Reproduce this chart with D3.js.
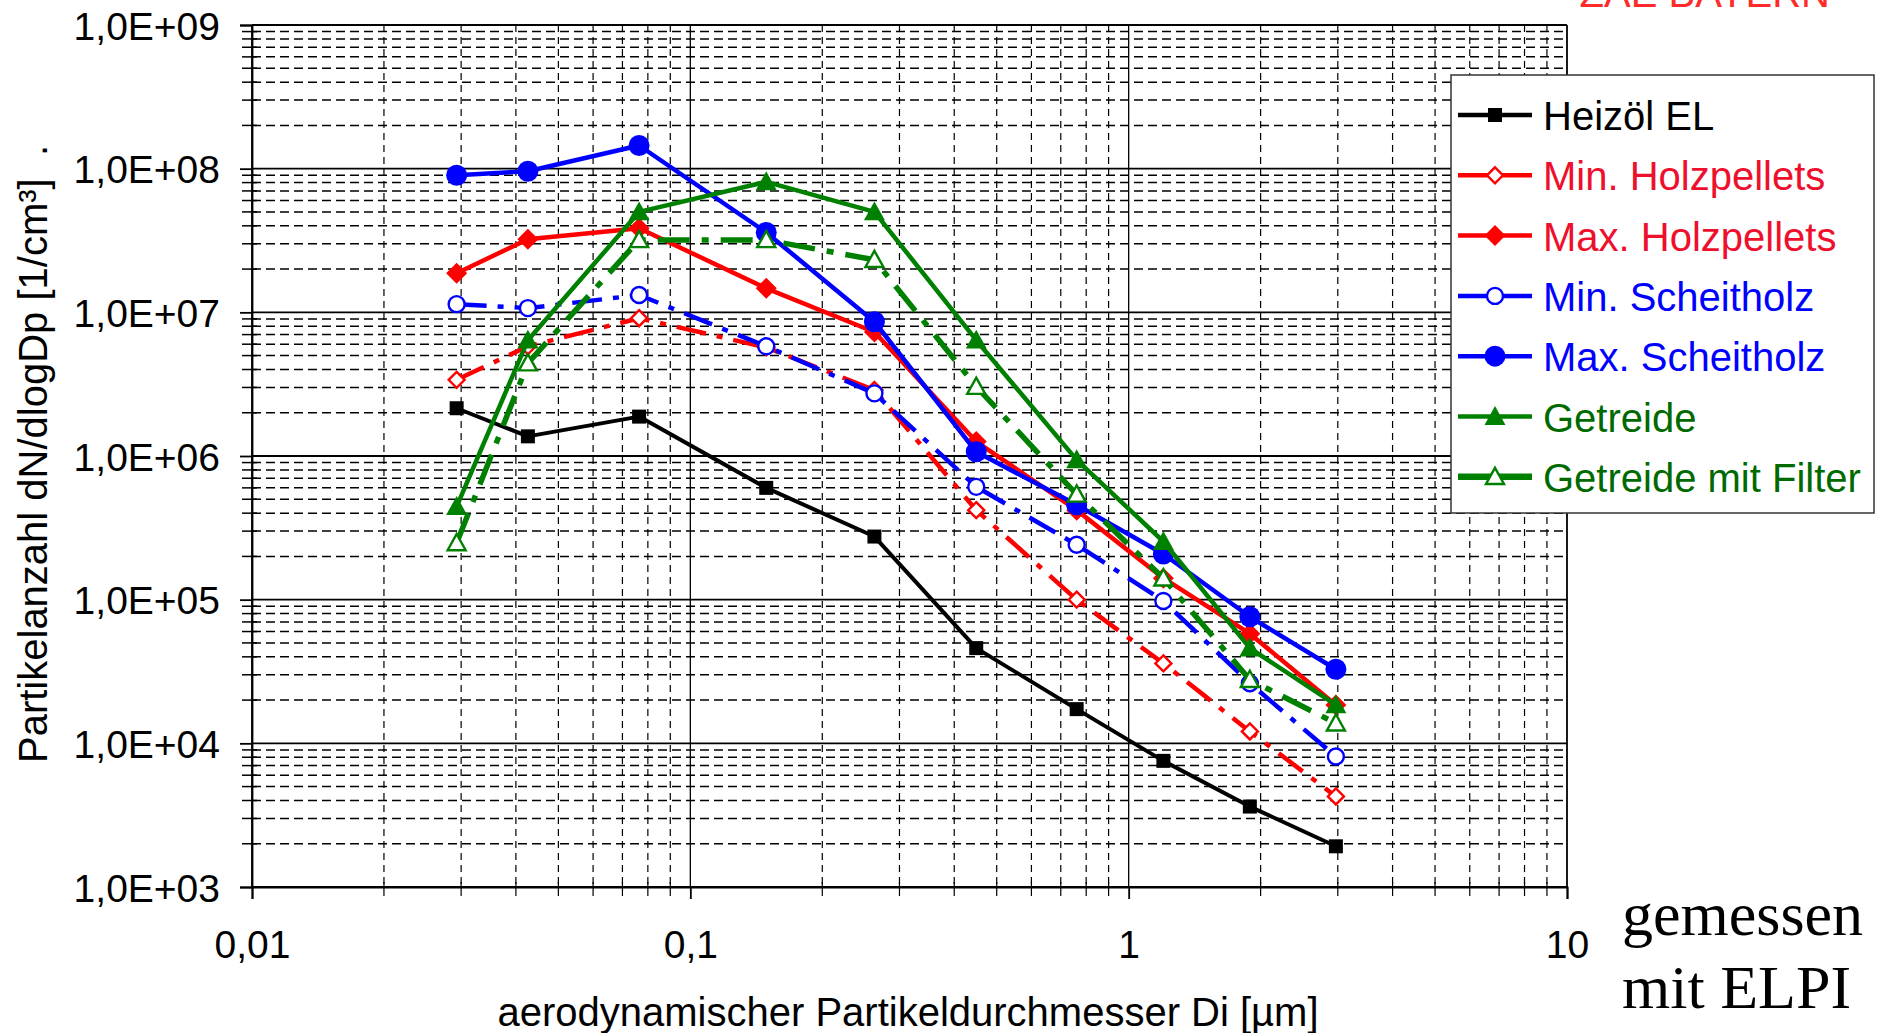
<!DOCTYPE html>
<html>
<head>
<meta charset="utf-8">
<script src="https://cdn.jsdelivr.net/npm/d3@7"></script>
<style>
  html, body { margin: 0; padding: 0; background: #fff; }
  svg { display: block; font-family: "Liberation Sans", Arial, sans-serif; }
</style>
</head>
<body>
<svg id="chart" width="1880" height="1033"></svg>
<script>
// ==========================
// DATA
// ==========================
const diameters = [0.0293, 0.0426, 0.0764, 0.149, 0.263, 0.449, 0.761, 1.20, 1.89, 2.97];

const heizoel      = [2.15e6, 1.37e6, 1.88e6, 6.0e5, 2.75e5, 4.6e4, 1.73e4, 7.55e3, 3.63e3, 1.92e3];
const minHolz      = [3.39e6, 5.8e6, 9.1e6, 5.7e6, 2.88e6, 4.2e5, 1.0e5, 3.6e4, 1.21e4, 4.27e3];
const maxHolz      = [1.87e7, 3.23e7, 3.85e7, 1.47e7, 7.3e6, 1.26e6, 4.2e5, 1.41e5, 5.8e4, 1.85e4];
const minScheit    = [1.14e7, 1.07e7, 1.32e7, 5.8e6, 2.73e6, 6.1e5, 2.41e5, 9.8e4, 2.62e4, 8.1e3];
const maxScheit    = [9.0e7, 9.6e7, 1.45e8, 3.6e7, 8.6e6, 1.07e6, 4.57e5, 2.08e5, 7.6e4, 3.28e4];
const getreide     = [4.45e5, 6.4e6, 5.0e7, 8.1e7, 5.0e7, 6.4e6, 9.4e5, 2.54e5, 4.6e4, 1.85e4];
const getreideFilt = [2.48e5, 4.43e6, 3.19e7, 3.19e7, 2.32e7, 3.04e6, 5.4e5, 1.41e5, 2.77e4, 1.38e4];

const seriesNames = ["Heizöl EL", "Min. Holzpellets", "Max. Holzpellets", "Min. Scheitholz",
                     "Max. Scheitholz", "Getreide", "Getreide mit Filter"];

const xTickValues = [0.01, 0.1, 1, 10];
const xTickLabels = ["0,01", "0,1", "1", "10"];
const yTickValues = [1e3, 1e4, 1e5, 1e6, 1e7, 1e8, 1e9];

// ==========================
// SETUP
// ==========================
const svg = d3.select("#chart");
const plotLeft = 252, plotRight = 1567, plotTop = 25, plotBottom = 887;

const x = d3.scaleLog().domain([0.01, 10]).range([plotLeft, plotRight]);
const y = d3.scaleLog().domain([1e3, 1e9]).range([plotBottom, plotTop]);

const RED = "#ff0000", BLUE = "#0000ff", GREEN = "#008000";

// series look: colour, marker, filled, line width, dash
const styles = [
    { data: heizoel,      color: "#000", text: "#000",    marker: "square",   fill: true,  w: 4,   dash: null, size: 14 },
    { data: minHolz,      color: RED,    text: "#ee0f2d", marker: "diamond",  fill: false, w: 4.5, dash: "30,11,6,11", size: 18 },
    { data: maxHolz,      color: RED,    text: "#ee0f2d", marker: "diamond",  fill: true,  w: 4.5, dash: null, size: 21 },
    { data: minScheit,    color: BLUE,   text: BLUE,      marker: "circle",   fill: false, w: 4.5, dash: "30,11,6,11", size: 18 },
    { data: maxScheit,    color: BLUE,   text: BLUE,      marker: "circle",   fill: true,  w: 4.5, dash: null, size: 21 },
    { data: getreide,     color: GREEN,  text: "#006a00", marker: "triangle", fill: true,  w: 4.5, dash: null, size: 21 },
    { data: getreideFilt, color: GREEN,  text: "#006a00", marker: "triangle", fill: false, w: 5.5, dash: "32,12,7,12", size: 20 }
];

// ==========================
// GRID
// ==========================
const grid = svg.append("g").attr("class", "grid");

// minor values for log axes
const xMinor = [];
[0.01, 0.1, 1].forEach(d => { for (let k = 2; k <= 9; k++) xMinor.push(d * k); });
const yMinor = [];
[1e3, 1e4, 1e5, 1e6, 1e7, 1e8].forEach(d => { for (let k = 2; k <= 9; k++) yMinor.push(d * k); });

grid.selectAll(".hminor")
    .data(yMinor)
    .enter()
    .append("line")
    .attr("x1", plotLeft).attr("x2", plotRight)
    .attr("y1", d => y(d)).attr("y2", d => y(d))
    .attr("stroke", "#000")
    .attr("stroke-width", 1.5)
    .attr("stroke-dasharray", "9,5");

grid.selectAll(".vminor")
    .data(xMinor)
    .enter()
    .append("line")
    .attr("x1", d => x(d)).attr("x2", d => x(d))
    .attr("y1", plotTop).attr("y2", plotBottom)
    .attr("stroke", "#000")
    .attr("stroke-width", 1.2)
    .attr("stroke-dasharray", "7,5");

grid.selectAll(".hmajor")
    .data(yTickValues)
    .enter()
    .append("line")
    .attr("x1", plotLeft).attr("x2", plotRight)
    .attr("y1", d => y(d)).attr("y2", d => y(d))
    .attr("stroke", "#000")
    .attr("stroke-width", 1.8);

grid.selectAll(".vmajor")
    .data(xTickValues)
    .enter()
    .append("line")
    .attr("x1", d => x(d)).attr("x2", d => x(d))
    .attr("y1", plotTop).attr("y2", plotBottom)
    .attr("stroke", "#000")
    .attr("stroke-width", d => (d === 0.01 || d === 10) ? 1.8 : 1.3);

// minor tick marks crossing the axes
grid.selectAll(".yminortick")
    .data(yMinor)
    .enter()
    .append("line")
    .attr("x1", plotLeft - 10).attr("x2", plotLeft + 5)
    .attr("y1", d => y(d)).attr("y2", d => y(d))
    .attr("stroke", "#000").attr("stroke-width", 1.5);

grid.selectAll(".xminortick")
    .data(xMinor)
    .enter()
    .append("line")
    .attr("x1", d => x(d)).attr("x2", d => x(d))
    .attr("y1", plotBottom - 5).attr("y2", plotBottom + 9)
    .attr("stroke", "#000").attr("stroke-width", 1.2);

// ==========================
// AXES
// ==========================
const yAxis = svg.append("g")
    .attr("transform", `translate(${plotLeft},0)`)
    .call(d3.axisLeft(y)
        .tickValues(yTickValues)
        .tickSize(12)
        .tickPadding(20)
        .tickFormat(d => "1,0E+" + String(Math.round(Math.log10(d))).padStart(2, "0")));

const xAxis = svg.append("g")
    .attr("transform", `translate(0,${plotBottom})`)
    .call(d3.axisBottom(x)
        .tickValues(xTickValues)
        .tickSize(12)
        .tickPadding(31)
        .tickFormat((d, i) => xTickLabels[i]));

[yAxis, xAxis].forEach(a => {
    a.select(".domain").attr("stroke", "#000").attr("stroke-width", 1.8);
    a.selectAll(".tick line").attr("stroke", "#000").attr("stroke-width", 1.8);
    a.selectAll(".tick text")
        .attr("fill", "#000")
        .style("font-size", "39px")
        .style("font-family", "'Liberation Sans', Arial, sans-serif");
});
yAxis.selectAll(".tick text").attr("dy", "0.36em");

// axis titles
svg.append("text")
    .attr("transform", "translate(47,763) rotate(-90)")
    .attr("text-anchor", "start")
    .style("font-size", "40px")
    .style("white-space", "pre")
    .text("Partikelanzahl dN/dlogDp [1/cm³]  .");

svg.append("text")
    .attr("x", 908)
    .attr("y", 1026)
    .attr("text-anchor", "middle")
    .style("font-size", "40px")
    .text("aerodynamischer Partikeldurchmesser Di [µm]");

// ==========================
// SERIES
// ==========================
const line = d3.line()
    .x((d, i) => x(diameters[i]))
    .y(d => y(d));

function markerPath(type, size) {
    const s = size / 2;
    if (type === "square") return `M${-s},${-s}H${s}V${s}H${-s}Z`;
    if (type === "diamond") return `M0,${-s}L${s},0L0,${s}L${-s},0Z`;
    if (type === "triangle") return `M0,${-s}L${s},${s * 0.8}L${-s},${s * 0.8}Z`;
    return `M${s},0A${s},${s} 0 1,1 ${-s},0A${s},${s} 0 1,1 ${s},0Z`;
}

function drawMarker(g, st, cx, cy) {
    g.append("path")
        .attr("transform", `translate(${cx},${cy})`)
        .attr("d", markerPath(st.marker, st.fill ? st.size : st.size - 2))
        .attr("fill", st.fill ? st.color : "#fff")
        .attr("stroke", st.color)
        .attr("stroke-width", st.fill ? 0 : 2.4);
}

const seriesGroup = svg.append("g").attr("class", "series");

styles.forEach(st => {
    const g = seriesGroup.append("g");
    g.append("path")
        .datum(st.data)
        .attr("d", line)
        .attr("fill", "none")
        .attr("stroke", st.color)
        .attr("stroke-width", st.w)
        .attr("stroke-linejoin", "round")
        .attr("stroke-dasharray", st.dash);
    st.data.forEach((v, i) => drawMarker(g, st, x(diameters[i]), y(v)));
});

// ==========================
// LEGEND
// ==========================
const legend = svg.append("g").attr("class", "legend");

legend.append("rect")
    .attr("x", 1451).attr("y", 75)
    .attr("width", 423).attr("height", 438)
    .attr("fill", "#fff")
    .attr("stroke", "#333")
    .attr("stroke-width", 1.5);

styles.forEach((st, i) => {
    const cy = 115 + i * 60.3;
    legend.append("line")
        .attr("x1", 1458).attr("x2", 1532)
        .attr("y1", cy).attr("y2", cy)
        .attr("stroke", st.color)
        .attr("stroke-width", i === 6 ? 6.5 : 4.5);
    drawMarker(legend, st, 1495, cy);
    legend.append("text")
        .attr("x", 1543)
        .attr("y", cy + 15)
        .attr("fill", st.text)
        .style("font-size", "40px")
        .text(seriesNames[i]);
});

// ==========================
// NOTES
// ==========================
svg.append("text")
    .attr("x", 1830).attr("y", 7)
    .attr("text-anchor", "end")
    .attr("fill", "#ff2a2a")
    .style("font-size", "40px")
    .text("ZAE BAYERN");

svg.append("text")
    .attr("x", 1622).attr("y", 935)
    .style("font-family", "'Liberation Serif', 'Times New Roman', serif")
    .style("font-size", "62px")
    .text("gemessen");

svg.append("text")
    .attr("x", 1622).attr("y", 1008)
    .style("font-family", "'Liberation Serif', 'Times New Roman', serif")
    .style("font-size", "62px")
    .text("mit ELPI");
</script>
</body>
</html>
